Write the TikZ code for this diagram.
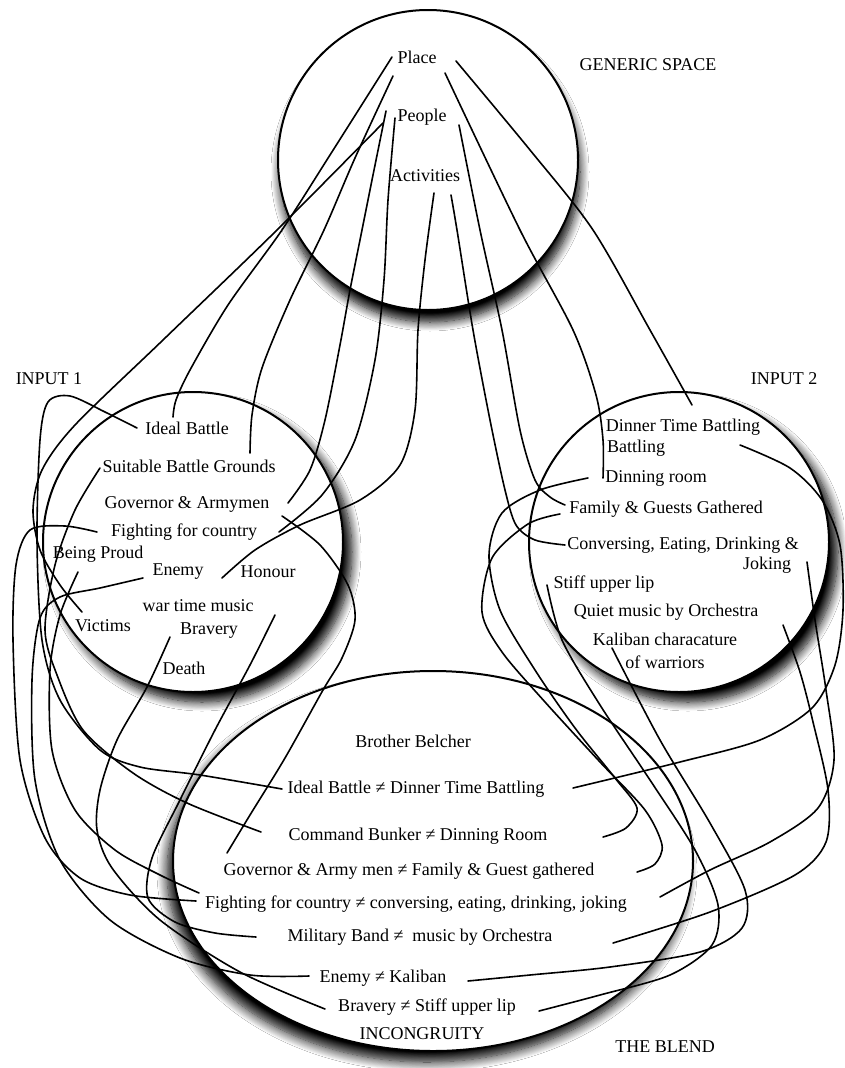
\documentclass[tikz,border=0pt]{standalone}
\usepackage{fontspec}
\setmainfont{Liberation Serif}
\usetikzlibrary{shadows.blur}
\begin{document}
\begin{tikzpicture}[x=1pt,y=-1pt,
  lbl/.style={font=\fontsize{18}{21}\selectfont, inner sep=0pt},
  conn/.style={line width=1.6pt, line cap=round, line join=round},
  spacecirc/.style={draw=black, line width=2pt, fill=white}]
\fill[white] (0,0) rectangle (844,1068);
\useasboundingbox (0,0) rectangle (844,1068);

% ---------- the four spaces ----------
\draw[spacecirc, blur shadow={shadow xshift=2pt, shadow yshift=-12pt, shadow blur radius=9pt, shadow blur steps=12, shadow opacity=100}] (428,160) circle[radius=150pt];
\draw[spacecirc, blur shadow={shadow xshift=9pt, shadow yshift=-10pt, shadow blur radius=9pt, shadow blur steps=12, shadow opacity=100}] (193,542) circle[radius=150pt];
\draw[spacecirc, blur shadow={shadow xshift=9pt, shadow yshift=-10pt, shadow blur radius=9pt, shadow blur steps=12, shadow opacity=100}] (679,542) circle[radius=150pt];
\draw[spacecirc, blur shadow={shadow xshift=-6pt, shadow yshift=-11pt, shadow blur radius=10pt, shadow blur steps=12, shadow opacity=100}] (433,861) ellipse[x radius=260pt, y radius=190pt];

% ---------- texts ----------
\node[lbl] (place) at (417,57) {Place};
\node[lbl] (people) at (422,117) {People};
\node[lbl] (activ) at (425,176) {Activities};
\node[lbl] (gen) at (648,65) {GENERIC SPACE};

\node[lbl] (in1) at (49,379) {INPUT 1};
\node[lbl] (ideal) at (187,428) {Ideal Battle};
\node[lbl] (suit) at (189,466) {Suitable Battle Grounds};
\node[lbl] (gov) at (187,504) {Governor \& Armymen};
\node[lbl] (fight) at (184,532) {Fighting for country};
\node[lbl] (proud) at (98,554) {Being Proud};
\node[lbl] (enemy) at (178,572) {Enemy};
\node[lbl] (honour) at (268,572) {Honour};
\node[lbl] (music) at (198,606) {war time music};
\node[lbl] (victims) at (103,626) {Victims};
\node[lbl] (bravery) at (209,631) {Bravery};
\node[lbl] (death) at (184,668) {Death};

\node[lbl] (in2) at (784,379) {INPUT 2};
\node[lbl] (dtb) at (683,427) {Dinner Time Battling};
\node[lbl] (batt) at (636,448) {Battling};
\node[lbl] (dinroom) at (656,478) {Dinning room};
\node[lbl] (family) at (666,509) {Family \& Guests Gathered};
\node[lbl] (convers) at (683,545) {Conversing, Eating, Drinking \&};
\node[lbl] (joking) at (767,565) {Joking};
\node[lbl] (stiff) at (604,584) {Stiff upper lip};
\node[lbl] (quiet) at (666,612) {Quiet music by Orchestra};
\node[lbl] (kaliban) at (665,639) {Kaliban characature};
\node[lbl] (warriors) at (665,662) {of warriors};

\node[lbl] (belcher) at (413,741) {Brother Belcher};
\node[lbl] (bl1) at (416,789) {Ideal Battle ≠ Dinner Time Battling};
\node[lbl] (bl2) at (418,836) {Command Bunker ≠ Dinning Room};
\node[lbl] (bl3) at (409,871) {Governor \& Army men ≠ Family \& Guest gathered};
\node[lbl] (bl4) at (416,904) {Fighting for country ≠ conversing, eating, drinking, joking};
\node[lbl] (bl5) at (420,937) {Military Band ≠\ \ music by Orchestra};
\node[lbl] (bl6) at (383,978) {Enemy ≠ Kaliban};
\node[lbl] (bl7) at (427,1007) {Bravery ≠ Stiff upper lip};
\node[lbl] (incong) at (422,1034) {INCONGRUITY};
\node[lbl] (theblend) at (665,1047) {THE BLEND};

% ---------- connector ends ----------
\coordinate (pA) at (392,57);
\coordinate (pB) at (393,76);
\coordinate (pC) at (456,61);
\coordinate (pD) at (445,73);
\coordinate (qA) at (386,111);
\coordinate (qB) at (383,123);
\coordinate (qC) at (395,118);
\coordinate (qD) at (459,125);
\coordinate (aA) at (434,193);
\coordinate (aB) at (451,195);

\coordinate (idealT) at (173,417);
\coordinate (idealL) at (137,428);
\coordinate (suitR) at (250,453);
\coordinate (suitL) at (100,468);
\coordinate (govR) at (288,503);
\coordinate (govRb) at (282,516);
\coordinate (fightR) at (279,532);
\coordinate (fightL) at (97,532);
\coordinate (proudB) at (78,572);
\coordinate (enemyL) at (143,578);
\coordinate (honourL) at (222,578);
\coordinate (musicR) at (275,615);
\coordinate (victimsT) at (82,612);
\coordinate (braveL) at (170,637);

\coordinate (dtbT) at (692,405);
\coordinate (dtbR) at (740,445);
\coordinate (dinL) at (603,478);
\coordinate (dinLb) at (588,478);
\coordinate (famL) at (565,505);
\coordinate (famLb) at (560,514);
\coordinate (conL) at (565,545);
\coordinate (jokR) at (807,562);
\coordinate (stiffL) at (547,585);
\coordinate (quietR) at (783,625);
\coordinate (kalB) at (612,648);

\coordinate (b1L) at (282,789);
\coordinate (b1R) at (573,788);
\coordinate (b2L) at (261,832);
\coordinate (b2R) at (603,837);
\coordinate (b3L) at (227,853);
\coordinate (b3R) at (637,872);
\coordinate (b4L) at (196,901);
\coordinate (b4Lb) at (199,893);
\coordinate (b4R) at (660,897);
\coordinate (b5L) at (256,937);
\coordinate (b5R) at (613,943);
\coordinate (b6L) at (309,976);
\coordinate (b6R) at (468,981);
\coordinate (b7L) at (325,1009);
\coordinate (b7R) at (539,1011);

% ---------- generic space to inputs ----------
\draw[conn] plot[smooth] coordinates {(pA) (330,155) (282,230) (228,305) (190,370) (176,400) (idealT)};
\draw[conn] plot[smooth] coordinates {(pB) (355,158) (324,230) (290,300) (262,368) (252,415) (suitR)};
\draw[conn] plot[smooth] coordinates {(qA) (372,180) (362,230) (350,290) (340,345) (325,420) (310,470) (govR)};
\draw[conn] plot[smooth] coordinates {(qB) (277,230) (163,340) (75,425) (42,470) (33,510) (40,550) (60,585) (victimsT)};
\draw[conn] plot[smooth] coordinates {(qC) (388,200) (384,280) (375,360) (355,440) (322,495) (fightR)};
\draw[conn] plot[smooth] coordinates {(aA) (425,260) (418,330) (415,410) (400,465) (360,500) (300,525) (255,550) (honourL)};
\draw[conn] plot[smooth] coordinates {(aB) (457,230) (473,330) (490,420) (505,490) (516,525) (535,540) (conL)};
\draw[conn] plot[smooth] coordinates {(qD) (480,230) (502,330) (520,430) (535,480) (550,497) (famL)};
\draw[conn] plot[smooth] coordinates {(pD) (520,230) (573,330) (596,395) (603,440) (dinL)};
\draw[conn] plot[smooth] coordinates {(pC) (530,150) (593,230) (650,330) (dtbT)};

% ---------- input 1 to blend ----------
\draw[conn] plot[smooth] coordinates {(idealL) (105,412) (70,396) (48,402) (40,440) (37,540) (42,640) (60,700) (100,750) (140,767) (200,775) (b1L)};
\draw[conn] plot[smooth] coordinates {(suitL) (75,510) (55,565) (45,630) (57,675) (83,730) (133,773) (187,803) (b2L)};
\draw[conn] plot[smooth] coordinates {(govRb) (320,545) (348,585) (355,620) (342,658) (323,690) (285,758) (250,815) (b3L)};
\draw[conn] plot[smooth] coordinates {(musicR) (250,665) (215,730) (180,800) (152,858) (148,898) (175,922) (215,933) (b5L)};
\draw[conn] plot[smooth] coordinates {(braveL) (147,687) (117,740) (100,790) (97,830) (112,868) (160,920) (240,972) (b7L)};
\draw[conn] plot[smooth] coordinates {(enemyL) (100,588) (60,597) (40,618) (32,680) (35,780) (60,860) (110,920) (180,958) (250,975) (b6L)};
\draw[conn] plot[smooth] coordinates {(fightL) (65,526) (30,530) (16,565) (13,640) (20,760) (45,838) (80,878) (130,895) (b4L)};
\draw[conn] plot[smooth] coordinates {(proudB) (60,615) (50,670) (52,750) (75,810) (115,850) (160,875) (b4Lb)};

% ---------- input 2 to blend ----------
\draw[conn] plot[smooth] coordinates {(dtbR) (790,468) (822,500) (840,545) (843,610) (835,665) (812,708) (760,740) (680,762) (b1R)};
\draw[conn] plot[smooth] coordinates {(dinLb) (540,490) (502,513) (489,555) (500,610) (535,670) (575,728) (615,778) (637,808) (626,828) (b2R)};
\draw[conn] plot[smooth] coordinates {(famLb) (528,524) (492,558) (482,612) (502,652) (545,702) (600,762) (645,810) (662,845) (655,864) (b3R)};
\draw[conn] plot[smooth] coordinates {(jokR) (815,620) (826,690) (834,760) (818,808) (770,842) (710,870) (b4R)};
\draw[conn] plot[smooth] coordinates {(quietR) (800,672) (813,722) (828,790) (826,842) (795,875) (710,912) (b5R)};
\draw[conn] plot[smooth] coordinates {(kalB) (660,740) (710,823) (745,890) (742,928) (700,952) (610,967) (530,975) (b6R)};
\draw[conn] plot[smooth] coordinates {(stiffL) (562,640) (600,705) (650,780) (695,850) (718,905) (712,945) (670,975) (600,995) (b7R)};
\end{tikzpicture}
\end{document}
